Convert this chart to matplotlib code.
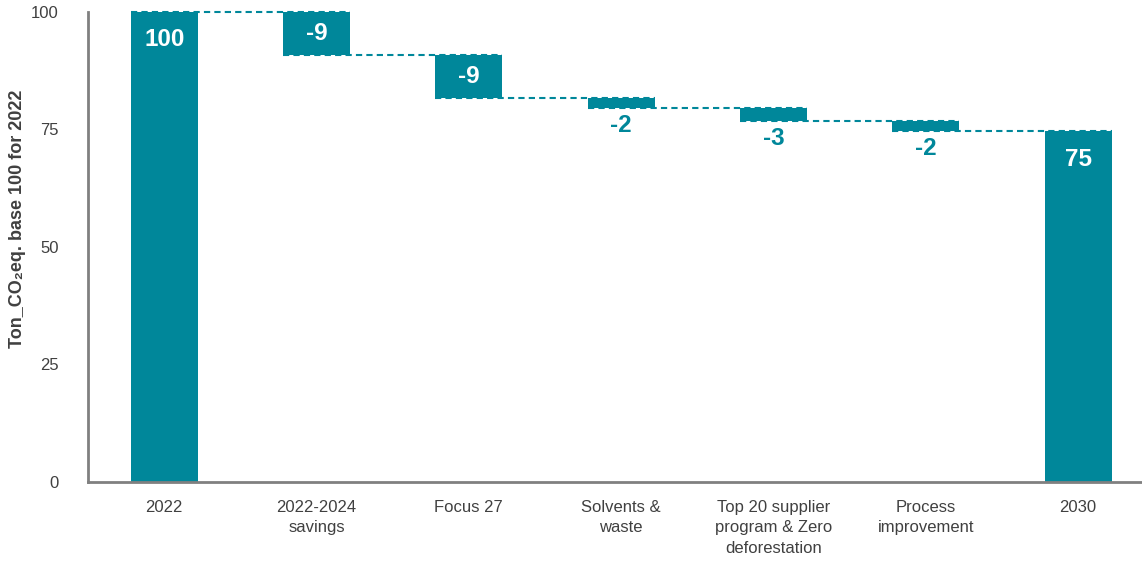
import numpy as np
import matplotlib.pyplot as plt

plt.rcParams['font.family'] = ['Liberation Sans', 'DejaVu Sans']

categories = ["2022", "2022-2024\nsavings", "Focus 27", "Solvents &\nwaste",
              "Top 20 supplier\nprogram & Zero\ndeforestation", "Process\nimprovement", "2030"]
start_value = 100
deltas = [-9.3, -9.1, -2.1, -2.8, -2.1]
end_value = 74.6

teal = "#00879a"
grey_txt = "#404040"

fig = plt.figure(figsize=(11.42, 5.62), dpi=100)
ax = fig.add_axes([0.0771, 0.1423, 0.9229, 0.8372])

w = 0.44
x = np.arange(len(categories))

# totals
ax.bar(x[0], start_value, width=w, color=teal, zorder=2)
ax.bar(x[-1], end_value, width=w, color=teal, zorder=2)
ax.text(x[0], start_value - 6, f"{start_value:.0f}", ha="center", va="center",
        color="white", fontsize=17.5, fontweight="bold", zorder=3)
ax.text(x[-1], end_value - 6, f"{end_value:.0f}", ha="center", va="center",
        color="white", fontsize=17.5, fontweight="bold", zorder=3)

# steps
level = start_value
levels = [level]
for i, d in enumerate(deltas):
    xi = x[i + 1]
    new = level + d
    ax.bar(xi, -d, bottom=new, width=w, color=teal, zorder=2)
    if abs(d) > 5:
        ax.text(xi, new - d / 2, f"{d:.0f}", ha="center", va="center",
                color="white", fontsize=17.5, fontweight="bold", zorder=3)
    else:
        ax.text(xi, new - 1.2, f"{d:.0f}", ha="center", va="top",
                color=teal, fontsize=17.5, fontweight="bold", zorder=3)
    level = new
    levels.append(level)

# connectors
for i, lv in enumerate(levels):
    ax.plot([x[i] - w / 2, x[i + 1] + w / 2], [lv, lv], color=teal, lw=1.5,
            linestyle=(0, (3, 2)), zorder=1, clip_on=False)

ax.set_xlim(-0.5, 6.42)
ax.set_ylim(0, 100)
ax.set_yticks([0, 25, 50, 75, 100])
ax.set_xticks(x)
ax.set_xticklabels(categories, fontsize=12, color=grey_txt, linespacing=1.45)
ax.tick_params(axis="y", length=0, pad=21, labelsize=12, labelcolor=grey_txt)
ax.tick_params(axis="x", length=0, pad=13)

for s in ["top", "right"]:
    ax.spines[s].set_visible(False)
for s in ["left", "bottom"]:
    ax.spines[s].set_color("#808080")
    ax.spines[s].set_linewidth(2)

ax.set_ylabel("Ton_CO\u2082eq. base 100 for 2022", fontsize=13, fontweight="bold",
              color=grey_txt)
ax.yaxis.set_label_coords(-0.059, 0.56)

fig.savefig("out.png", dpi=100)
